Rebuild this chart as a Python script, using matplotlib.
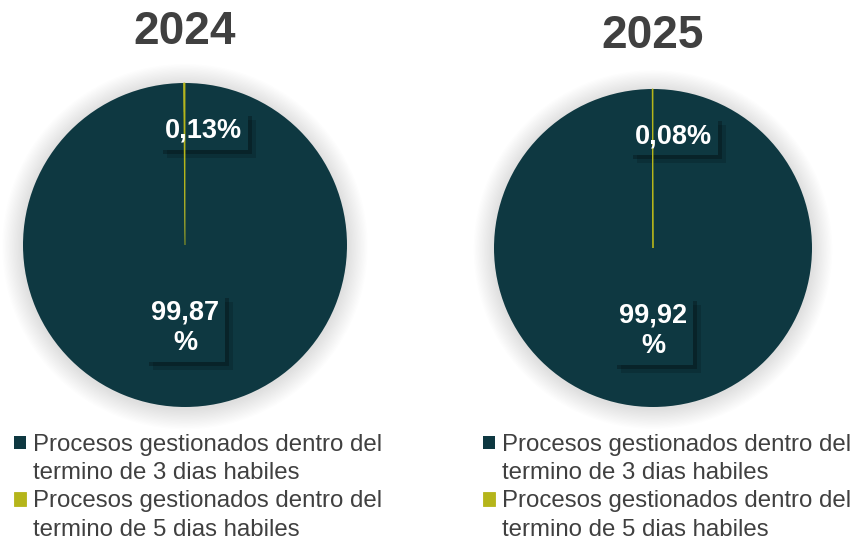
import matplotlib
matplotlib.use("Agg")
import matplotlib.pyplot as plt
import matplotlib.patheffects as pe
from matplotlib.patches import Circle, Patch

plt.rcParams['font.family'] = ['Liberation Sans', 'DejaVu Sans']

years = ["2024", "2025"]
categories = [["Procesos gestionados dentro del", "termino de 3 dias habiles"],
              ["Procesos gestionados dentro del", "termino de 5 dias habiles"]]
values_2024 = [99.87, 0.13]
values_2025 = [99.92, 0.08]
labels_2024 = ["99,87\n%", "0,13%"]
labels_2025 = ["99,92\n%", "0,08%"]
colors = ["#0E3841", "#B5B51A"]

W, H = 850, 541
fig = plt.figure(figsize=(8.5, 5.41), dpi=100)
fig.patch.set_facecolor("white")

specs = [
    dict(cx=185, cy=245, r=162, ty=44, vals=values_2024, labs=labels_2024,
         lpos=[(0.5, 0.245), (0.556, 0.852)], legx=14, year=years[0]),
    dict(cx=653, cy=248, r=159, ty=48, vals=values_2025, labs=labels_2025,
         lpos=[(0.5, 0.240), (0.563, 0.852)], legx=483, year=years[1]),
]

for s in specs:
    cx, cy, r = s["cx"], s["cy"], s["r"]
    ax = fig.add_axes([(cx - r) / W, (H - cy - r) / H, 2 * r / W, 2 * r / H])
    wedges, _ = ax.pie(s["vals"], colors=colors, startangle=90, counterclock=False,
                       radius=1.0, wedgeprops=dict(linewidth=0))
    ax.set_xlim(-1, 1)
    ax.set_ylim(-1, 1)
    ax.set_aspect("equal")
    ax.axis("off")
    # soft glow shadow
    n = 16
    for k in range(n):
        ax.add_patch(Circle((0, -0.01), 1.0 + 0.008 * (n - k), color="black",
                            alpha=0.009, lw=0, zorder=0, clip_on=False))
    wedges[0].set_zorder(2)
    wedges[1].set_zorder(4)
    wedges[1].set_edgecolor(colors[1])
    wedges[1].set_linewidth(0.6)
    for w in wedges:
        w.set_clip_on(False)
    for lab, (px, py) in zip(s["labs"], s["lpos"]):
        kw = dict(transform=ax.transAxes, ha="center", va="center",
                  fontsize=19.5, fontweight="bold", linespacing=1.22)
        box = ax.text(px, py, lab, color="none", zorder=3,
                      bbox=dict(boxstyle="square,pad=0.22", fc=colors[0], ec="none"), **kw)
        box.get_bbox_patch().set_path_effects([
            pe.SimplePatchShadow(offset=(6, -6), shadow_rgbFace="black", alpha=0.15),
            pe.SimplePatchShadow(offset=(3, -3), shadow_rgbFace="black", alpha=0.25),
            pe.Normal()])
        ax.text(px, py, lab, color="white", zorder=5, **kw)
    fig.text(cx / W, 1 - s["ty"] / H, s["year"], ha="center", va="baseline",
             fontsize=33, fontweight="bold", color="#404040")
    blank = Patch(facecolor="none", edgecolor="none")
    handles, labs = [], []
    for w, cat in zip(wedges, categories):
        handles += [w, blank]
        labs += cat
    leg = ax.legend(handles, labs, loc="upper left",
                    bbox_to_anchor=(s["legx"] / W, 1 - 434 / H),
                    bbox_transform=fig.transFigure, frameon=False,
                    fontsize=17.3, borderpad=0, borderaxespad=0,
                    handlelength=0.5, handleheight=0.5, handletextpad=0.3,
                    labelspacing=0.26, labelcolor="#404040")

fig.savefig("out.png", dpi=100, facecolor="white")
